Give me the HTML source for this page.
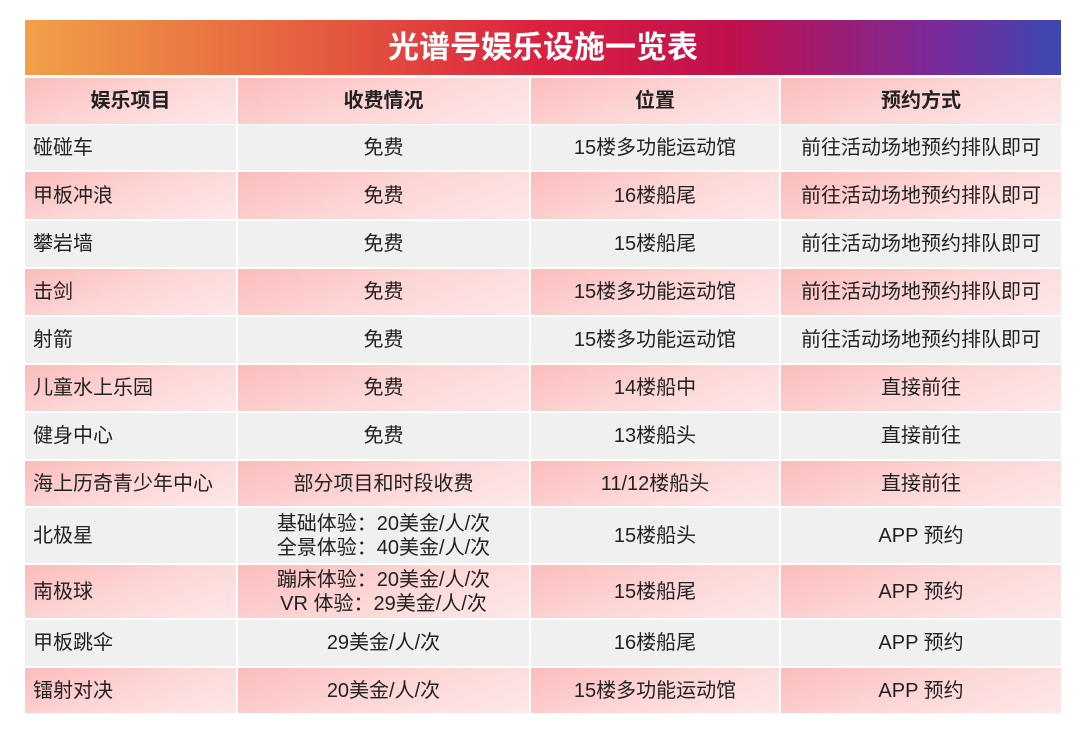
<!DOCTYPE html>
<html><head><meta charset="utf-8"><style>
body{margin:0;width:1080px;height:733px;background:#fff;position:relative;overflow:hidden;font-family:"Liberation Sans","Noto Sans CJK SC",sans-serif;color:#222}
.t{position:absolute;left:25px;top:20px;width:1036px;height:55px;background:linear-gradient(90deg,#f0a048 0%,#e4583e 30%,#dc2040 50%,#c0104c 68%,#7a2a9a 88%,#3a48b2 100%);color:#fff;font-weight:bold;font-size:31px;text-align:center;line-height:55px}
.c{position:absolute;display:flex;align-items:center;justify-content:center;font-size:20px;text-align:center;line-height:24px;box-sizing:border-box}
.l{justify-content:flex-start;padding-left:8px}
.p{background:linear-gradient(160deg,#fbbcbc 0%,#fdd6d6 50%,#fde8e8 100%)}
.g{background:#f0f0f0}
.h{font-weight:bold;font-size:20px}
</style></head><body>
<div class="t">光谱号娱乐设施一览表</div>
<div id="tb"></div>
<script>
var cols=[[25,211],[238,291],[531,248],[781,280]];
var rows=[[78,46],[125,45],[172,47],[221,46],[269,46],[317,46],[365,46],[413,46],[461,45],[508,55],[565,53],[620,46],[668,45]];
var data=[
["娱乐项目","收费情况","位置","预约方式"],
["碰碰车","免费","15楼多功能运动馆","前往活动场地预约排队即可"],
["甲板冲浪","免费","16楼船尾","前往活动场地预约排队即可"],
["攀岩墙","免费","15楼船尾","前往活动场地预约排队即可"],
["击剑","免费","15楼多功能运动馆","前往活动场地预约排队即可"],
["射箭","免费","15楼多功能运动馆","前往活动场地预约排队即可"],
["儿童水上乐园","免费","14楼船中","直接前往"],
["健身中心","免费","13楼船头","直接前往"],
["海上历奇青少年中心","部分项目和时段收费","11/12楼船头","直接前往"],
["北极星","基础体验：20美金/人/次<br>全景体验：40美金/人/次","15楼船头","APP 预约"],
["南极球","蹦床体验：20美金/人/次<br>VR 体验：29美金/人/次","15楼船尾","APP 预约"],
["甲板跳伞","29美金/人/次","16楼船尾","APP 预约"],
["镭射对决","20美金/人/次","15楼多功能运动馆","APP 预约"]];
var h="";
for(var r=0;r<rows.length;r++){for(var c=0;c<4;c++){
var cls="c "+(r==0?"p h":(r%2==1?"g":"p"))+(r>0&&c==0?" l":"");
h+='<div class="'+cls+'" style="left:'+cols[c][0]+'px;top:'+rows[r][0]+'px;width:'+cols[c][1]+'px;height:'+rows[r][1]+'px">'+data[r][c]+'</div>';}}
document.getElementById("tb").innerHTML=h;
</script>
</body></html>
